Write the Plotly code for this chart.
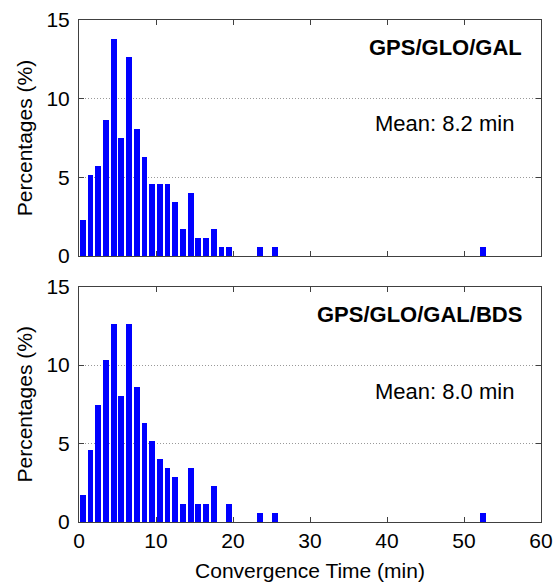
import plotly.graph_objects as go

# Bin centres (min) and percentages
bins_top = [0.5, 1.5, 2.5, 3.5, 4.5, 5.5, 6.5, 7.5, 8.5, 9.5, 10.5, 11.5, 12.5,
            13.5, 14.5, 15.5, 16.5, 17.5, 18.5, 19.5, 23.5, 25.5, 52.5]
pct_top = [2.30, 5.17, 5.75, 8.62, 13.79, 7.47, 12.64, 8.05, 6.32, 4.60, 4.60,
           4.60, 3.45, 1.72, 4.02, 1.15, 1.15, 1.72, 0.57, 0.57, 0.57, 0.57, 0.57]

bins_bot = [0.5, 1.5, 2.5, 3.5, 4.5, 5.5, 6.5, 7.5, 8.5, 9.5, 10.5, 11.5, 12.5,
            13.5, 14.5, 15.5, 16.5, 17.5, 19.5, 23.5, 25.5, 52.5]
pct_bot = [1.72, 4.60, 7.47, 10.34, 12.64, 8.05, 12.64, 8.62, 6.32, 5.17, 4.02,
           3.45, 2.87, 1.15, 3.45, 1.15, 1.15, 2.30, 1.15, 0.57, 0.57, 0.57]

x_ticks = [0, 10, 20, 30, 40, 50, 60]
y_ticks = [0, 5, 10, 15]

label_top = "GPS/GLO/GAL"
label_bot = "GPS/GLO/GAL/BDS"
mean_top = "Mean: 8.2 min"
mean_bot = "Mean: 8.0 min"

FONT = "Arial, 'Liberation Sans', Helvetica, sans-serif"
BLUE = "#0000FF"
AXC = "#404040"

fig = go.Figure()
fig.add_trace(go.Bar(x=bins_top, y=pct_top, width=0.75, marker=dict(color=BLUE, line=dict(width=0)),
                     xaxis="x2", yaxis="y2", showlegend=False))
fig.add_trace(go.Bar(x=bins_bot, y=pct_bot, width=0.75, marker=dict(color=BLUE, line=dict(width=0)),
                     xaxis="x", yaxis="y", showlegend=False))

common_x = dict(range=[0, 60], tickvals=x_ticks, ticks="inside", ticklen=5, tickcolor=AXC,
                showline=True, linecolor=AXC, linewidth=1, mirror="ticks", showgrid=False,
                zeroline=False, automargin=False,
                tickfont=dict(family=FONT, size=21, color="black"))
common_y = dict(range=[0, 15], tickvals=y_ticks, ticks="inside", ticklen=5, tickcolor=AXC,
                showline=True, linecolor=AXC, linewidth=1, mirror="ticks", showgrid=True,
                gridcolor="#999999", griddash="1px,2px", gridwidth=1, zeroline=False,
                automargin=False,
                tickfont=dict(family=FONT, size=21, color="black"), ticklabelstandoff=4,
                title=dict(text="Percentages (%)", font=dict(family=FONT, size=21, color="black"),
                           standoff=8))

fig.update_layout(
    width=556, height=585,
    margin=dict(l=79, r=14.5, t=19.5, b=62.5, autoexpand=False),
    paper_bgcolor="white", plot_bgcolor="white",
    bargap=0, showlegend=False,
    xaxis=dict(anchor="y", domain=[0, 1], **common_x,
               title=dict(text="Convergence Time (min)", font=dict(family=FONT, size=21, color="black"),
                          standoff=12)),
    xaxis2=dict(anchor="y2", domain=[0, 1], showticklabels=False, **common_x),
    yaxis=dict(anchor="x", domain=[0, 0.4688], **common_y),
    yaxis2=dict(anchor="x2", domain=[0.5298, 1], **common_y),
    annotations=[
        dict(text="<b>%s</b>" % label_top, xref="x2 domain", yref="y2", x=0.964, y=13.27,
             xanchor="right", yanchor="middle", showarrow=False,
             font=dict(family=FONT, size=22, color="black")),
        dict(text=mean_top, xref="x2 domain", yref="y2", x=0.946, y=8.44,
             xanchor="right", yanchor="middle", showarrow=False,
             font=dict(family=FONT, size=22, color="black")),
        dict(text="<b>%s</b>" % label_bot, xref="x domain", yref="y", x=0.964, y=13.2,
             xanchor="right", yanchor="middle", showarrow=False,
             font=dict(family=FONT, size=22, color="black")),
        dict(text=mean_bot, xref="x domain", yref="y", x=0.946, y=8.32,
             xanchor="right", yanchor="middle", showarrow=False,
             font=dict(family=FONT, size=22, color="black")),
    ],
)

fig.write_html("out.html")
